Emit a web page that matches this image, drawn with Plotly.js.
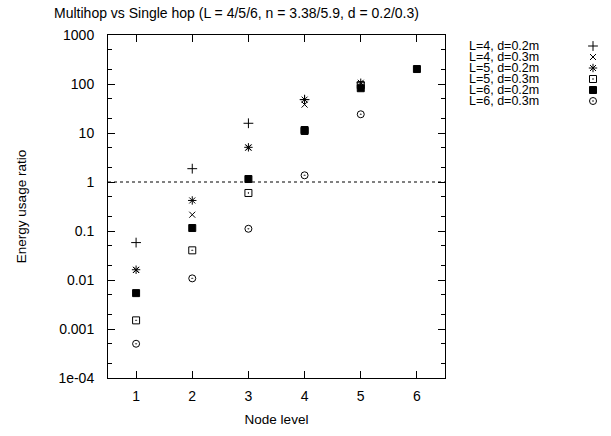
<!DOCTYPE html>
<html>
<head>
<meta charset="utf-8">
<script src="https://cdn.plot.ly/plotly-3.0.1.min.js"></script>
<style>html,body{margin:0;padding:0;background:#fff;}#chart{width:611px;height:436px;}</style>
</head>
<body>
<div id="chart"></div>
<script>
// ---- data ----
const nodeLevels = [1, 2, 3, 4, 5, 6];
const seriesNames = ["L=4, d=0.2m", "L=4, d=0.3m", "L=5, d=0.2m", "L=5, d=0.3m", "L=6, d=0.2m", "L=6, d=0.3m"];
const L4_d02 = [0.058, 1.87, 15.8, 48];
const L4_d03 = [0.016, 0.215, 5.0, 38];
const L5_d02 = [0.0162, 0.42, 5.1, 48, 106];
const L5_d03 = [0.0015, 0.0403, 0.597, 11, 95];
const L6_d02 = [0.0054, 0.115, 1.15, 11.5, 82, 202];
const L6_d03 = [0.0005, 0.0108, 0.111, 1.37, 24.1];
const referenceLevel = [1];
const yTickVals = [1000, 100, 10, 1, 0.1, 0.01, 0.001, 0.0001];
const yTickText = ["1000", "100", "10", "1", "0.1", "0.01", "0.001", "1e-04"];
const xTickVals = [1, 2, 3, 4, 5, 6];

// ---- styles ----
const seriesData = [L4_d02, L4_d03, L5_d02, L5_d03, L6_d02, L6_d03];
const symbols = ["cross-thin-open", "x-thin-open", "asterisk-open", "square-open-dot", "square", "circle-open-dot"];
const sizes = [7, 6, 7, 7, 7, 7];
const FONT = 'Liberation Sans, Arial, sans-serif';

const W = 611, H = 436;
const mL = 108, mR = 5, mT = 35, mB = 58;
const plotW = W - mL - mR;
const plotRight = 445;
const mainDomainEnd = (plotRight - mL) / plotW;
const paperH = H - mT - mB;

function px2paperX(px) { return (px - mL) / plotW; }
function px2paperY(py) { return (H - mB - py) / paperH; }

const traces = [];
seriesData.forEach((vals, i) => {
  traces.push({
    type: 'scatter', mode: 'markers',
    x: nodeLevels.slice(0, vals.length), y: vals,
    name: seriesNames[i], showlegend: false,
    marker: {symbol: symbols[i], size: sizes[i], color: 'black', line: {color: 'black', width: 1}},
    hoverinfo: 'skip'
  });
});
// legend keys, one per series, placed by series index on a hidden axis pair
seriesNames.forEach((nm, i) => {
  traces.push({
    type: 'scatter', mode: 'markers', xaxis: 'x2', yaxis: 'y2',
    x: [0], y: [i], showlegend: false, hoverinfo: 'skip',
    marker: {symbol: symbols[i], size: sizes[i], color: 'black', line: {color: 'black', width: 1}}
  });
});

const rowTop = 40.5, rowH = 11;
const annotations = seriesNames.map((nm, i) => ({
  text: nm, xref: 'paper', yref: 'y2', x: px2paperX(467), y: i,
  xanchor: 'left', yanchor: 'middle', showarrow: false,
  font: {size: 12.5, color: 'black', family: FONT}
}));

const minorVals = [];
for (let e = -4; e < 3; e++) { minorVals.push(2 * Math.pow(10, e)); minorVals.push(5 * Math.pow(10, e)); }

const layout = {
  width: W, height: H,
  margin: {l: mL, r: mR, t: mT, b: mB, pad: 0},
  paper_bgcolor: 'white', plot_bgcolor: 'white',
  font: {family: FONT, size: 14, color: 'black'},
  showlegend: false,
  title: {
    text: 'Multihop vs Single hop (L = 4/5/6, n = 3.38/5.9, d = 0.2/0.3)',
    xref: 'container', yref: 'container', x: 236.5 / W, xanchor: 'center',
    y: 1 - 13 / H, yanchor: 'middle', font: {size: 14, color: 'black'}
  },
  xaxis: {
    domain: [0, mainDomainEnd], range: [0.5, 6.5],
    tickmode: 'array', tickvals: xTickVals, ticktext: xTickVals.map(String),
    ticks: 'inside', ticklen: 7, tickwidth: 1, tickcolor: 'black',
    mirror: 'ticks', showline: true, linecolor: 'black', linewidth: 1,
    showgrid: false, zeroline: false, ticklabelstandoff: 5,
    tickfont: {size: 14},
    title: {text: 'Node level', standoff: 11, font: {size: 13.5}}
  },
  yaxis: {
    type: 'log', range: [-4, 3],
    tickmode: 'array', tickvals: yTickVals, ticktext: yTickText,
    ticks: 'inside', ticklen: 7, tickwidth: 1, tickcolor: 'black',
    mirror: 'ticks', showline: true, linecolor: 'black', linewidth: 1,
    showgrid: false, zeroline: false, ticklabelstandoff: 10,
    tickfont: {size: 14},
    minor: {ticks: 'inside', ticklen: 4, tickcolor: 'black', showgrid: false,
            tickmode: 'array', tickvals: minorVals},
    title: {text: 'Energy usage ratio', standoff: 28, font: {size: 13.5}}
  },
  xaxis2: {domain: [px2paperX(583), px2paperX(603)], range: [-1, 1], visible: false, anchor: 'y2', fixedrange: true},
  yaxis2: {domain: [px2paperY(rowTop + 6 * rowH), px2paperY(rowTop)], range: [5.5, -0.5], visible: false, anchor: 'x2', fixedrange: true},
  shapes: referenceLevel.map(v => ({
    type: 'line', xref: 'x domain', yref: 'y', x0: 0, x1: 1, y0: v, y1: v,
    line: {color: 'black', width: 1, dash: 'dot'}
  })),
  annotations: annotations
};

Plotly.newPlot('chart', traces, layout, {displayModeBar: false, staticPlot: true});
</script>
</body>
</html>
